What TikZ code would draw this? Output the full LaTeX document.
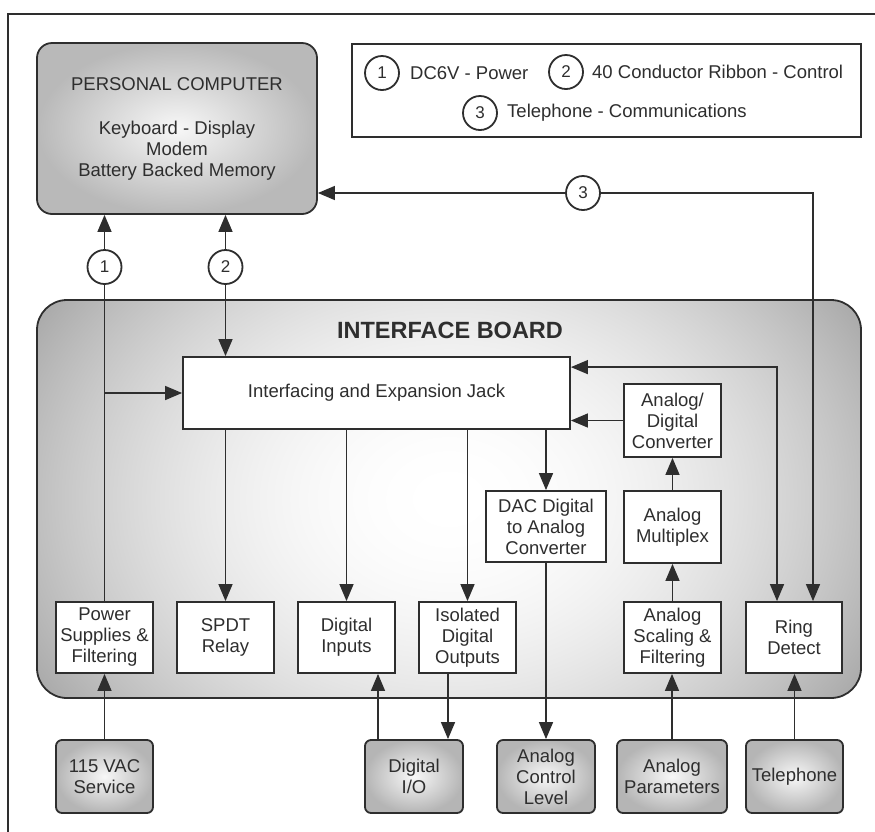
\documentclass[tikz,border=0pt]{standalone}
\usepackage{fontspec}
\setmainfont{Liberation Sans}
\usetikzlibrary{arrows.meta}
\definecolor{ink}{gray}{0.18}
\pgfdeclarefunctionalshading{boardshade}{\pgfpoint{-50bp}{-50bp}}{\pgfpoint{50bp}{50bp}}{}{
  25 div dup mul 0.10 mul exch 25 div dup mul 0.25 mul add 1 exch sub dup dup}

\begin{document}
\begin{tikzpicture}[x=1pt,y=-1pt,
    font=\fontsize{18.5}{21}\selectfont,
    every node/.style={text=ink},
    box/.style={draw=ink,line width=1.8pt,fill=white,align=center,inner sep=0pt},
    unit/.style={box,minimum width=97pt,minimum height=71pt},
    ext/.style={box,rounded corners=6pt,inner color=gray!6,outer color=gray!58,minimum height=73pt},
    num/.style={circle,draw=ink,line width=1.8pt,fill=white,minimum size=34pt,inner sep=0pt,font=\fontsize{17}{17}\selectfont},
    wire/.style={draw=ink,line width=1.4pt},
    conn/.style={wire,-{Triangle[length=17pt,width=14pt]}},
    both/.style={wire,{Triangle[length=17pt,width=14pt]}-{Triangle[length=17pt,width=14pt]}}]
    \useasboundingbox (0,0) rectangle (875,831);
    \draw[ink,line width=2pt] (8,835) -- (8,14) -- (880,14);

    \node[box,rounded corners=15pt,inner color=gray!6,outer color=gray!55,minimum width=280pt,minimum height=171pt] (pc) at (177,128.5) {PERSONAL COMPUTER\\[23pt]Keyboard - Display\\Modem\\Battery Backed Memory};

    \node[box,minimum width=509pt,minimum height=93pt] (legend) at (606.5,90.5) {};
    \node[num] (l1) at (382,73) {1};
    \node[anchor=west,inner sep=0pt] (l1t) at (410,73) {DC6V - Power};
    \node[num] (l2) at (566,72) {2};
    \node[anchor=west,inner sep=0pt] (l2t) at (592,72) {40 Conductor Ribbon - Control};
    \node[num] (l3) at (480,113) {3};
    \node[anchor=west,inner sep=0pt] (l3t) at (507,113) {Telephone - Communications};

    \node[box,rounded corners=30pt,shade,shading=boardshade,minimum width=824pt,minimum height=398pt] (board) at (449,499) {};
    \node[font=\fontsize{23.5}{28}\selectfont\bfseries] (title) at (450,330) {INTERFACE BOARD};

    \node[box,minimum width=387pt,minimum height=72pt] (jack) at (376.5,393) {Interfacing and Expansion Jack};
    \node[unit,minimum height=73pt] (ad) at (672.5,420.5) {Analog/\\Digital\\Converter};
    \node[unit,minimum width=120pt] (dac) at (546,526.5) {DAC Digital\\to Analog\\Converter};
    \node[unit,minimum height=72pt] (mux) at (672.5,527) {Analog\\Multiplex};

    \node[unit] (ps) at (104.5,637.5) {Power\\Supplies \&\\Filtering};
    \node[unit] (spdt) at (225.5,637.5) {SPDT\\Relay};
    \node[unit] (din) at (346.5,637.5) {Digital\\Inputs};
    \node[unit] (dout) at (467.5,637.5) {Isolated\\Digital\\Outputs};
    \node[unit] (scal) at (672.5,637.5) {Analog\\Scaling \&\\Filtering};
    \node[unit,minimum width=96pt] (ring) at (794,637.5) {Ring\\Detect};

    \node[ext,minimum width=97pt] (vac) at (104.5,776.5) {115 VAC\\Service};
    \node[ext,minimum width=98pt] (dio) at (414,776.5) {Digital\\I/O};
    \node[ext,minimum width=98pt] (acl) at (546,776.5) {Analog\\Control\\Level};
    \node[ext,minimum width=110pt] (apar) at (672,776.5) {Analog\\Parameters};
    \node[ext,minimum width=97pt] (tel) at (794.5,776.5) {Telephone};

    \node[num] (c1) at (104.5,267) {1};
    \node[num] (c2) at (225.5,267) {2};
    \node[num] (c3) at (583,193) {3};

    \draw[wire] (ps.north) -- (c1.south);
    \draw[conn] (c1.north) -- (pc.south -| c1);
    \draw[conn] (ps.north |- jack.west) -- (jack.west);
    \draw[conn] (c2.north) -- (pc.south -| c2);
    \draw[conn] (c2.south) -- (jack.north -| c2);
    \draw[conn] (c3.west) -- (pc.east |- c3);
    \draw[conn] (c3.east) -| ([xshift=19pt]ring.north);
    \draw[both] ([yshift=-11pt]jack.north east) -| ([xshift=-17pt]ring.north);
    \draw[conn] (ad.west) -- (ad.west -| jack.east);
    \draw[conn] (mux.north) -- (ad.south);
    \draw[conn] (scal.north) -- (mux.south);

    \draw[conn] (jack.south -| spdt) -- (spdt.north);
    \draw[conn] (jack.south -| din) -- (din.north);
    \draw[conn] (jack.south -| dout) -- (dout.north);
    \draw[conn] (jack.south -| dac) -- (dac.north);

    \draw[conn] (vac.north) -- (ps.south);
    \draw[conn] ([xshift=-36pt]dio.north) -- ([xshift=-36pt]dio.north |- din.south);
    \draw[conn] ([xshift=-19.5pt]dout.south) -- ([xshift=-19.5pt]dout.south |- dio.north);
    \draw[conn] (dac.south) -- (acl.north);
    \draw[conn] (apar.north) -- (apar.north |- scal.south);
    \draw[conn] (tel.north) -- (tel.north |- ring.south);
\end{tikzpicture}
\end{document}
